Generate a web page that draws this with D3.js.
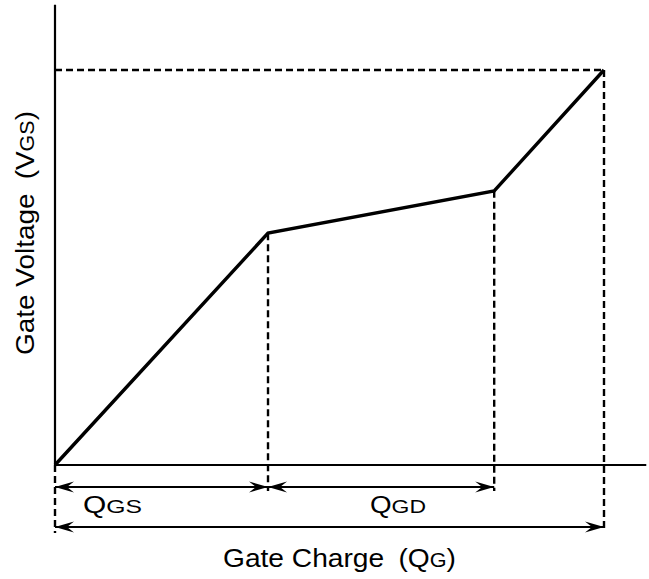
<!DOCTYPE html>
<html><head><meta charset="utf-8">
<script src="https://cdn.jsdelivr.net/npm/d3@7"></script>
<style>body{margin:0;background:#fff}svg{display:block}text{font-family:"Liberation Sans",Arial,sans-serif;fill:#000}</style>
</head><body><svg id="c" width="649" height="579"></svg>
<script>
// gate-charge curve (arbitrary units)
const charge  = [0, 38.8, 80.0, 100];
const voltage = [0, 58.7, 69.4, 100];
const chargeMax = 107.7, voltageMax = 116.5;
const xLabel = ["Gate Charge", "Q", "G"];
const yLabel = ["Gate Voltage", "V", "GS"];
const segLabels = [["Q","GS"],["Q","GD"]];

const svg = d3.select("#c");
const x = d3.scaleLinear().domain([0, 100]).range([55, 604]);
const y = d3.scaleLinear().domain([0, 100]).range([465, 70]);

const defs = svg.append("defs");
defs.append("marker").attr("id","ah").attr("viewBox","-20 -6 20 12")
  .attr("refX",0).attr("refY",0).attr("markerWidth",20).attr("markerHeight",12)
  .attr("markerUnits","userSpaceOnUse").attr("orient","auto-start-reverse")
  .append("path").attr("d","M0,0 L-19,-5.5 L-12,0 L-19,5.5 Z").attr("fill","#000");

// axes
svg.append("line").attr("x1",x(0)).attr("x2",x(0)).attr("y1",y(0)).attr("y2",y(voltageMax))
  .attr("stroke","#000").attr("stroke-width",2.2);
svg.append("line").attr("x1",x(0)).attr("x2",x(chargeMax)).attr("y1",y(0)).attr("y2",y(0))
  .attr("stroke","#000").attr("stroke-width",2.2);

const dash = "7,4";
const dw = 2.4;
const row1 = y(0) + 22, row2 = y(0) + 62;
svg.append("line").attr("x1",x(0)).attr("x2",x(charge[3])).attr("y1",y(voltage[3])).attr("y2",y(voltage[3]))
  .attr("stroke","#000").attr("stroke-width",dw).attr("stroke-dasharray",dash);
[[charge[1], voltage[1], row1+4],[charge[2], voltage[2], row1+4],[charge[3], voltage[3], row2+5]].forEach(d=>{
  svg.append("line").attr("x1",x(d[0])).attr("x2",x(d[0])).attr("y1",y(d[1])).attr("y2",d[2])
    .attr("stroke","#000").attr("stroke-width",dw).attr("stroke-dasharray",dash);
});
svg.append("line").attr("x1",x(0)).attr("x2",x(0)).attr("y1",y(0)).attr("y2",row2+6)
  .attr("stroke","#000").attr("stroke-width",dw).attr("stroke-dasharray",dash);

// curve
svg.append("path").datum(charge.map((c,i)=>[c, voltage[i]]))
  .attr("d", d3.line().x(d=>x(d[0])).y(d=>y(d[1])))
  .attr("fill","none").attr("stroke","#000").attr("stroke-width",3.4).attr("stroke-linejoin","miter");

// dimension arrows
function arrow(a,b,yy){
  svg.append("line").attr("x1",x(a)).attr("x2",x(b)).attr("y1",yy).attr("y2",yy)
    .attr("stroke","#000").attr("stroke-width",2.2)
    .attr("marker-start","url(#ah)").attr("marker-end","url(#ah)");
}
arrow(charge[0], charge[1], row1);
arrow(charge[1], charge[2], row1);
arrow(charge[0], charge[3], row2);

// segment labels
const sl = [[83, segLabels[0], 59],[370, segLabels[1], 56]];
sl.forEach(([xx, p, w])=>{
  const t = svg.append("text").attr("x",xx).attr("y",513)
    .attr("textLength",w).attr("lengthAdjust","spacingAndGlyphs");
  t.append("tspan").attr("font-size",23).text(p[0]);
  t.append("tspan").attr("font-size",19).text(p[1]);
});

// x label
const tx = svg.append("text").attr("x",223).attr("y",567)
  .attr("textLength",233).attr("lengthAdjust","spacingAndGlyphs");
tx.append("tspan").attr("font-size",26).text(xLabel[0]+" ");
tx.append("tspan").attr("font-size",26).attr("dx",6).text("("+xLabel[1]);
tx.append("tspan").attr("font-size",20).text(xLabel[2]);
tx.append("tspan").attr("font-size",26).text(")");

// y label
const ty = svg.append("text").attr("transform","translate(34,355) rotate(-90)")
  .attr("textLength",244).attr("lengthAdjust","spacingAndGlyphs");
ty.append("tspan").attr("font-size",26).text(yLabel[0]+" ");
ty.append("tspan").attr("font-size",26).attr("dx",6).text("("+yLabel[1]);
ty.append("tspan").attr("font-size",20).text(yLabel[2]);
ty.append("tspan").attr("font-size",26).text(")");
</script></body></html>
